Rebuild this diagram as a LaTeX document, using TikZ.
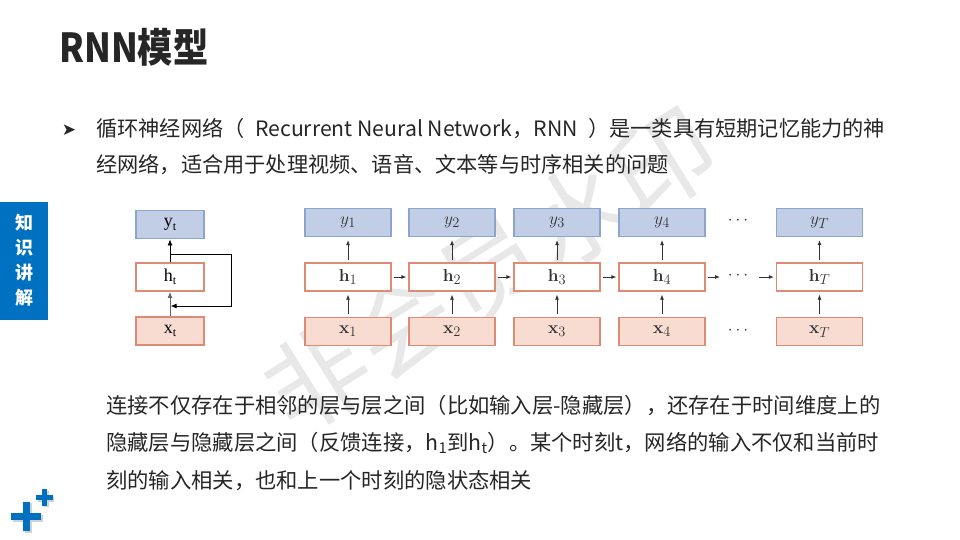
\documentclass[tikz,border=0pt]{standalone}
\usepackage[no-math]{fontspec}
\setmainfont{Noto Sans CJK SC}
\newfontfamily\serifface{Liberation Serif}
\newfontfamily\symface{DejaVu Sans}
\usetikzlibrary{arrows.meta}
\definecolor{ink}{HTML}{262626}
\definecolor{tabblue}{HTML}{0070C0}
\definecolor{yfill}{HTML}{C2CDE6}
\definecolor{ydraw}{HTML}{8CA5CC}
\definecolor{hdraw}{HTML}{DE8B73}
\definecolor{xfill}{HTML}{F8DCD1}
\definecolor{arrowgray}{HTML}{333333}
\definecolor{markgray}{HTML}{E8E8E8}
\begin{document}
\begin{tikzpicture}[x=1pt,y=-1pt,
  cell/.style={minimum width=86pt, minimum height=28pt, inner sep=0pt, line width=1.3pt, text=arrowgray},
  ybox/.style={cell, draw=ydraw, fill=yfill},
  hbox/.style={cell, draw=hdraw, fill=white},
  xbox/.style={cell, draw=hdraw, fill=xfill},
  lcell/.style={minimum width=68pt, minimum height=28pt, inner sep=0pt, line width=1.8pt, text=black,
    font=\serifface\fontsize{18}{18}\selectfont},
  flow/.style={-{Latex[length=5pt,width=4pt]}, draw=arrowgray, line width=0.8pt},
  lflow/.style={-{Latex[length=6pt,width=5pt]}, draw=black, line width=0.8pt},
  body/.style={anchor=base west, inner sep=0pt, text=ink, font=\fontsize{21.2}{21.2}\selectfont},
  plusmark/.style={fill=tabblue},
  lbl/.style={font=\fontsize{19}{19}\selectfont}
]
\useasboundingbox (0,0) rectangle (960,540);
\fill[white] (0,0) rectangle (960,540);

% faint watermark across the figure
\node[text=markgray, rotate=32, font=\fontsize{102}{102}\selectfont, inner sep=0pt] (wm) at (490,270) {非会员水印};

% title
\node[anchor=base west, inner sep=0pt, text=ink] (title) at (59,63)
  {\scalebox{0.88}[1]{\fontsize{40}{40}\selectfont\bfseries RNN模型}};

% side tab
\fill[tabblue] (0,202) rectangle (48,320);
\node[text=white, font=\fontsize{18}{18}\selectfont\bfseries, align=center, inner sep=0pt] (tab) at (25,260)
  {知\\[7pt]识\\[7pt]讲\\[7pt]解};

% bullet paragraph
\node[text=ink, font=\symface\fontsize{17}{17}\selectfont, inner sep=0pt] (bullet) at (69,130) {➤};
\node[body] (p1) at (96,137) {循环神经网络（\enspace Recurrent Neural Network，RNN\enspace）是一类具有短期记忆能力的神};
\node[body] (p2) at (96,173) {经网络，适合用于处理视频、语音、文本等与时序相关的问题};

% folded RNN
\node[lcell, draw=ydraw, fill=yfill] (yt) at (170,224.5) {y\raisebox{-3.5pt}{\fontsize{12}{12}\selectfont t}};
\node[lcell, draw=hdraw, fill=white] (ht) at (170,277) {h\raisebox{-3.5pt}{\fontsize{12}{12}\selectfont t}};
\node[lcell, draw=hdraw, fill=xfill] (xt) at (170,331) {x\raisebox{-3.5pt}{\fontsize{12}{12}\selectfont t}};
\draw[lflow] (ht.north) -- (yt.south);
\draw[lflow, draw=black!60] (xt.north) -- (ht.south);
\coordinate (fbA) at (170,254);
\coordinate (fbB) at (231,254);
\coordinate (fbC) at (231,306);
\coordinate (fbD) at (170.6,306);
\draw[lflow] (fbA) -- (fbB) -- (fbC) -- (fbD);

% unfolded RNN
\foreach \i/\x in {1/348,2/452,3/557,4/662} {
  \node[ybox, lbl] (y\i) at (\x,222.5) {$y_{\i}$};
  \node[hbox, lbl] (h\i) at (\x,277) {$\mathbf{h}_{\i}$};
  \node[xbox, lbl] (x\i) at (\x,331.3) {$\mathbf{x}_{\i}$};
  \draw[flow] ([yshift=2pt]h\i.north) -- ([yshift=-3pt]y\i.south);
  \draw[flow] ([yshift=3pt]x\i.north) -- ([yshift=-3pt]h\i.south);
}
\node[ybox, lbl] (yT) at (819.5,222.5) {$y_{T}$};
\node[hbox, lbl] (hT) at (819.5,277) {$\mathbf{h}_{T}$};
\node[xbox, lbl] (xT) at (819.5,331.3) {$\mathbf{x}_{T}$};
\draw[flow] ([yshift=2pt]hT.north) -- ([yshift=-3pt]yT.south);
\draw[flow] ([yshift=3pt]xT.north) -- ([yshift=-3pt]hT.south);

\node[text=arrowgray, inner sep=0pt, lbl] (dy) at (738,221) {$\cdots$};
\node[text=arrowgray, inner sep=0pt, lbl] (dh) at (738,276) {$\cdots$};
\node[text=arrowgray, inner sep=0pt, lbl] (dx) at (738,331) {$\cdots$};

\draw[flow] ([xshift=2pt]h1.east) -- ([xshift=-2pt]h2.west);
\draw[flow] ([xshift=2pt]h2.east) -- ([xshift=-2pt]h3.west);
\draw[flow] ([xshift=2pt]h3.east) -- ([xshift=-2pt]h4.west);
\draw[flow] ([xshift=2pt]h4.east) -- (720,277);
\draw[flow] (759,277) -- ([xshift=-2pt]hT.west);

% explanation
\node[body, font=\fontsize{21.3}{21.3}\selectfont] (q1) at (106,413) {连接不仅存在于相邻的层与层之间（比如输入层-隐藏层），还存在于时间维度上的};
\node[body, font=\fontsize{21.3}{21.3}\selectfont] (q2) at (106,450) {隐藏层与隐藏层之间（反馈连接，h\textsubscript{1}到h\textsubscript{t}）。某个时刻t，网络的输入不仅和当前时};
\node[body, font=\fontsize{21.3}{21.3}\selectfont] (q3) at (106,488) {刻的输入相关，也和上一个时刻的隐状态相关};

% corner plus marks
\fill[black!18] (13,514.5) rectangle (43,521.5);
\fill[black!18] (24.5,503) rectangle (31.5,533);
\fill[plusmark] (11,513) rectangle (41,520);
\fill[plusmark] (22.5,501.5) rectangle (29.5,531);
\fill[black!18] (37.5,496.5) rectangle (54,501.5);
\fill[black!18] (43.5,490.5) rectangle (48.5,507);
\fill[plusmark] (36,494.8) rectangle (52.6,499.8);
\fill[plusmark] (41.8,489) rectangle (46.8,505.6);
\end{tikzpicture}
\end{document}
